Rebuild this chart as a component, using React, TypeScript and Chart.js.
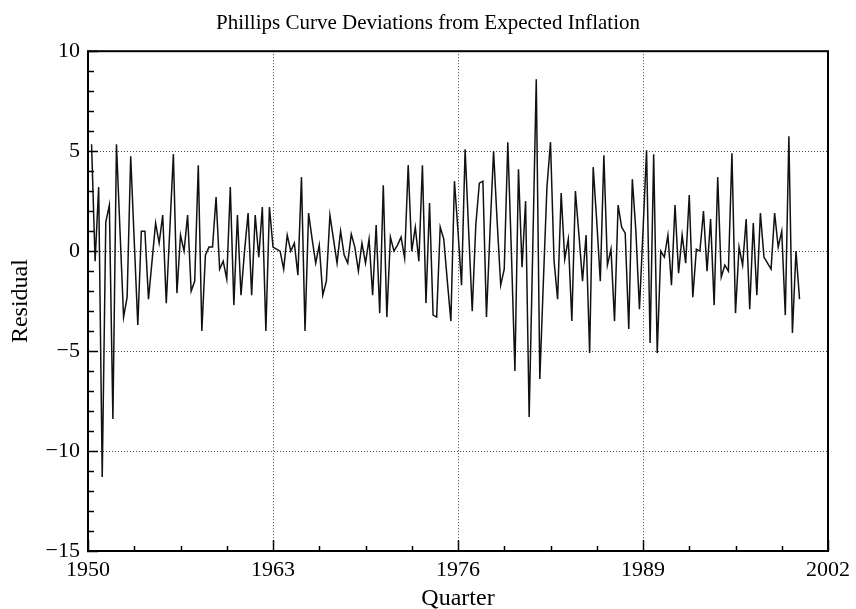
import { useEffect, useRef } from 'react';
import { Chart, registerables } from 'chart.js';

Chart.register(...registerables);

const TITLE = 'Phillips Curve Deviations from Expected Inflation';
const X_TITLE = 'Quarter';
const Y_TITLE = 'Residual';

// first observation: 1950 Q2, quarterly thereafter
const FIRST_QUARTER = 1950.25;

const res1950s = [
  5.35, -0.5, 3.2, -11.3, 1.45, 2.3, -8.4, 5.35, 1.0, -3.3, -2.3, 4.75, 0.5, -3.7, 1.0, 1.0,
  -2.4, -0.5, 1.4, 0.4, 1.8, -2.6, 1.1, 4.85, -2.1, 0.8, 0.0, 1.8, -2.0, -1.5, 4.3, -4.0,
  -0.2, 0.2, 0.2, 2.7, -0.9, -0.5, -1.4,
];
const res1960s = [
  3.2, -2.7, 1.8, -2.2, 0.0, 1.9, -2.2, 1.8, -0.3, 2.2, -4.0, 2.2, 0.2, 0.1, 0.0, -0.9,
  0.8, 0.0, 0.4, -1.2, 3.7, -4.0, 1.9, 0.6, -0.6, 0.3, -2.2, -1.5, 1.8, 0.6, -0.6, 1.0,
  -0.2, -0.6, 0.85, 0.2, -1.0, 0.4, -0.6, 0.6,
];
const res1970s = [
  -2.2, 1.3, -3.1, 3.3, -3.3, 0.7, 0.0, 0.3, 0.7, -0.35, 4.3, 0.0, 1.2, -0.5, 4.3, -2.6,
  2.4, -3.2, -3.3, 1.2, 0.6, -1.5, -3.5, 3.5, 1.0, -1.7, 5.1, 1.0, -3.0, 1.3, 3.4, 3.5,
  -3.3, 1.0, 5.0, 1.5, -1.7, -0.9, 5.45, 0.0,
];
const res1980s = [
  -6.0, 4.1, -0.8, 2.5, -8.3, 0.0, 8.6, -6.4, -1.5, 3.2, 5.45, -0.5, -2.4, 2.9, -0.4, 0.6,
  -3.5, 3.0, 0.8, -1.5, 0.8, -5.1, 4.2, 1.5, -1.5, 4.8, -0.7, 0.1, -3.5, 2.3, 1.2, 0.9,
  -3.9, 3.6, 1.0, -2.9, 1.0, 5.05, -4.6, 4.85,
];
const res1990s = [
  -5.1, 0.0, -0.3, 0.8, -1.7, 2.3, -1.1, 0.8, -0.6, 2.8, -2.3, 0.1, 0.0, 2.0, -1.0, 1.6,
  -2.7, 3.7, -1.3, -0.7, -1.0, 4.9, -3.1, 0.2, -0.7, 1.6, -2.9, 1.4, -2.2, 1.9, -0.3, -0.6,
  -0.9, 1.9, 0.2, 1.0, -3.2, 5.75, -4.1, 0.0, -2.4,
];

const xTickLabels = [1950, 1963, 1976, 1989, 2002];
const yTickLabels = [-15, -10, -5, 0, 5, 10];
const X_MINOR_STEP = 3.25;
const Y_MINOR_STEP = 1;

const FONT = '"Liberation Serif", "Times New Roman", Times, serif';

const residuals = [...res1950s, ...res1960s, ...res1970s, ...res1980s, ...res1990s];
const points = residuals.map((v, i) => ({ x: FIRST_QUARTER + i / 4, y: v }));

const frameTicksPlugin = {
  id: 'frameTicks',
  beforeDatasetsDraw(chart: any) {
    const { ctx, chartArea: a, scales } = chart;
    const x = scales.x;
    const y = scales.y;
    ctx.save();
    ctx.strokeStyle = '#444';
    ctx.lineWidth = 1;
    ctx.setLineDash([1, 2]);
    for (const v of xTickLabels) {
      if (v <= x.min || v >= x.max) continue;
      const px = Math.round(x.getPixelForValue(v)) + 0.5;
      ctx.beginPath();
      ctx.moveTo(px, a.top);
      ctx.lineTo(px, a.bottom);
      ctx.stroke();
    }
    for (const v of yTickLabels) {
      if (v <= y.min || v >= y.max) continue;
      const py = Math.round(y.getPixelForValue(v)) + 0.5;
      ctx.beginPath();
      ctx.moveTo(a.left, py);
      ctx.lineTo(a.right, py);
      ctx.stroke();
    }
    ctx.restore();
  },
  afterDatasetsDraw(chart: any) {
    const { ctx, chartArea: a, scales } = chart;
    const x = scales.x;
    const y = scales.y;
    ctx.save();
    ctx.strokeStyle = '#000';
    ctx.lineWidth = 1.5;
    // minor + major ticks on the left axis (inward)
    for (let v = y.min; v <= y.max + 1e-9; v += Y_MINOR_STEP) {
      const py = Math.round(y.getPixelForValue(v)) + 0.5;
      const major = yTickLabels.includes(v);
      ctx.beginPath();
      ctx.moveTo(a.left - (major ? 1 : 0), py);
      ctx.lineTo(a.left + (major ? 10 : 6), py);
      ctx.stroke();
    }
    // minor + major ticks on the bottom axis (inward)
    for (let v = x.min; v <= x.max + 1e-9; v += X_MINOR_STEP) {
      const px = Math.round(x.getPixelForValue(v)) + 0.5;
      const major = xTickLabels.includes(v);
      ctx.beginPath();
      ctx.moveTo(px, a.bottom);
      ctx.lineTo(px, a.bottom - (major ? 11 : 5));
      ctx.stroke();
    }
    // frame
    ctx.lineWidth = 2;
    ctx.strokeRect(a.left, a.top, a.right - a.left, a.bottom - a.top);
    ctx.restore();
  },
};

export default function App() {
  const canvasRef = useRef<HTMLCanvasElement | null>(null);

  useEffect(() => {
    const canvas = canvasRef.current;
    if (!canvas) return;
    const chart = new Chart(canvas, {
      type: 'line',
      data: {
        datasets: [
          {
            label: Y_TITLE,
            data: points,
            borderColor: '#111',
            borderWidth: 1.5,
            pointRadius: 0,
            tension: 0,
            fill: false,
          },
        ],
      },
      options: {
        responsive: false,
        animation: false,
        devicePixelRatio: 1,
        layout: { padding: 0 },
        plugins: {
          legend: { display: false },
          tooltip: { enabled: false },
          title: {
            display: true,
            text: TITLE,
            color: '#000',
            font: { family: FONT, size: 21, weight: 'normal' },
            padding: { top: 11, bottom: 15 },
          },
        },
        scales: {
          x: {
            type: 'linear',
            min: 1950,
            max: 2002,
            afterBuildTicks: (scale: any) => {
              scale.ticks = xTickLabels.map((v) => ({ value: v }));
            },
            afterFit: (scale: any) => {
              scale.height = 58;
            },
            grid: { display: false, drawTicks: false },
            border: { display: false },
            ticks: {
              color: '#000',
              padding: 6,
              maxRotation: 0,
              autoSkip: false,
              font: { family: FONT, size: 22 },
              callback: (v: any) => String(v),
            },
            title: {
              display: true,
              text: X_TITLE,
              color: '#000',
              font: { family: FONT, size: 24, lineHeight: 0.84 },
              padding: { top: 0, bottom: 0 },
            },
          },
          y: {
            type: 'linear',
            min: -15,
            max: 10,
            afterBuildTicks: (scale: any) => {
              scale.ticks = yTickLabels.map((v) => ({ value: v }));
            },
            afterFit: (scale: any) => {
              scale.width = 88;
            },
            grid: { display: false, drawTicks: false },
            border: { display: false },
            ticks: {
              color: '#000',
              padding: 8,
              font: { family: FONT, size: 22 },
              callback: (v: any) => (v < 0 ? '\u2212' + Math.abs(v) : String(v)),
            },
            title: {
              display: true,
              text: Y_TITLE,
              color: '#000',
              font: { family: FONT, size: 24 },
              padding: { top: 6, bottom: 0 },
            },
          },
          yRight: {
            type: 'linear',
            position: 'right',
            display: true,
            min: -15,
            max: 10,
            afterFit: (scale: any) => {
              scale.width = 24;
            },
            grid: { display: false, drawTicks: false },
            border: { display: false },
            ticks: { display: false },
          },
        },
      },
      plugins: [frameTicksPlugin],
    });
    return () => chart.destroy();
  }, []);

  return (
    <div style={{ position: 'fixed', left: 0, top: 0, width: 856, height: 609, background: '#fff' }}>
      <canvas ref={canvasRef} width={856} height={609} style={{ display: 'block' }} />
    </div>
  );
}
